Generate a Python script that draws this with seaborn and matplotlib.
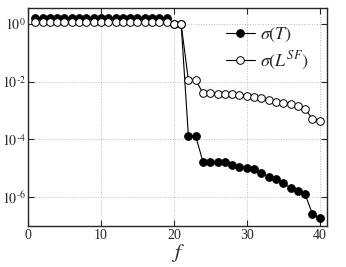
import numpy as np
import matplotlib
matplotlib.use("Agg")
import matplotlib.pyplot as plt
import seaborn as sns

# ---------------------- data ---------------------- #
f_vals = list(range(1, 41))

sigma_T_log = [0.22] * 19 + [0.0, 0.0, -3.9, -3.9,
               -4.78, -4.78, -4.78, -4.80, -4.90, -4.95, -4.99, -5.03,
               -5.17, -5.29, -5.36, -5.53, -5.67, -5.78, -5.90, -6.58, -6.73]

sigma_L_log = [0.06] * 19 + [0.0, 0.0, -1.955, -1.955,
               -2.39, -2.40, -2.41, -2.42, -2.43, -2.45, -2.48, -2.53,
               -2.58, -2.64, -2.69, -2.73, -2.79, -2.85, -2.94, -3.29, -3.36]

sigma_T = 10.0 ** np.array(sigma_T_log)
sigma_L = 10.0 ** np.array(sigma_L_log)

x_ticks = [0, 10, 20, 30, 40]
y_ticks = [1e0, 1e-2, 1e-4, 1e-6]
y_labels = [r'$10^{0}$', r'$10^{\text{-}2}$', r'$10^{\text{-}4}$', r'$10^{\text{-}6}$']

# ---------------------- style ---------------------- #
sns.set_style("ticks")
plt.rcParams['font.family'] = ['Liberation Serif', 'DejaVu Serif']
plt.rcParams['mathtext.fontset'] = 'stix'
plt.rcParams['xtick.direction'] = 'in'
plt.rcParams['ytick.direction'] = 'in'

fig = plt.figure(figsize=(3.46, 2.67), dpi=100)
ax = fig.add_axes([0.081, 0.154, 0.864, 0.816])

sns.lineplot(x=f_vals, y=sigma_T, ax=ax, color='black', lw=0.8,
             marker='o', markersize=5.5, markeredgecolor='black',
             markerfacecolor='black', label=r'$\sigma(T)$')
sns.lineplot(x=f_vals, y=sigma_L, ax=ax, color='black', lw=0.8,
             marker='o', markersize=5.5, markeredgecolor='black',
             markeredgewidth=0.7, markerfacecolor='white',
             label=r'$\sigma(L^{SF})$')

ax.set_yscale('log')
ax.set_xlim(0, 41)
ax.set_ylim(1e-7, 3.6)
ax.set_xticks(x_ticks)
ax.set_yticks(y_ticks)
ax.yaxis.set_minor_locator(matplotlib.ticker.NullLocator())
ax.tick_params(top=True, right=True, length=4, width=0.8, labelsize=10, pad=2)
ax.tick_params(axis='y', pad=1.5)
ax.set_xticklabels([str(t) for t in x_ticks])
ax.set_yticklabels(y_labels)

ax.grid(True, color='#bbbbbb', linestyle=':', linewidth=0.7)
for s in ax.spines.values():
    s.set_linewidth(1.0)

ax.set_xlabel(r'$f$', fontsize=15, labelpad=0)
ax.set_ylabel('')

ax.legend(loc='upper right', frameon=False, fontsize=13, handlelength=1.6,
          handletextpad=0.3, borderaxespad=0.6, labelspacing=0.3)

plt.savefig('out.png', dpi=100)
plt.close()
